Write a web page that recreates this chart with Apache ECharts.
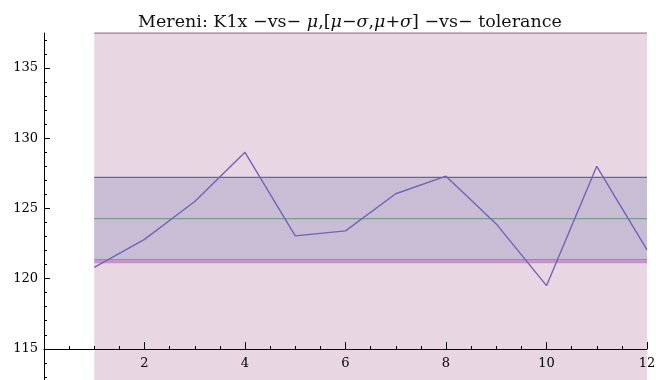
<!DOCTYPE html>
<html>
<head>
<meta charset="utf-8">
<script src="https://cdn.jsdelivr.net/npm/echarts@6/dist/echarts.min.js"></script>
<style>
  html, body { margin: 0; padding: 0; background: #fff; }
  #echarts { width: 656px; height: 380px; }
</style>
</head>
<body>
<div id="echarts"></div>
<script>
var myChart = echarts.init(document.getElementById('echarts'));

// measurements K1x
var samples = [1, 2, 3, 4, 5, 6, 7, 8, 9, 10, 11, 12];
var values = [120.8, 122.8, 125.5, 129.0, 123.05, 123.4, 126.05, 127.3, 123.9, 119.5, 128.0, 122.05];
var tolerance = [121.2, 137.5];
var yLabels = [115, 120, 125, 130, 135];
var yMinor = [111, 112, 113, 114, 116, 117, 118, 119, 121, 122, 123, 124, 126, 127, 128, 129, 131, 132, 133, 134, 136, 137];

// mu and sigma from the samples
var mu = values.reduce(function (a, b) { return a + b; }, 0) / values.length;
var sigma = Math.sqrt(values.reduce(function (a, b) { return a + (b - mu) * (b - mu); }, 0) / (values.length - 1));

var x0 = samples[0], x1 = samples[samples.length - 1];
function hline(v) { return [[x0, v], [x1, v]]; }

var serif = 'DejaVu Serif';

var option = {
    animation: false,
    backgroundColor: '#fff',
    title: {
        text: 'Mereni: K1x \u2212vs\u2212 {i|\u03bc},[{i|\u03bc}\u2212{i|\u03c3},{i|\u03bc}+{i|\u03c3}] \u2212vs\u2212 tolerance',
        left: 345,
        textAlign: 'center',
        top: 8,
        textStyle: {
            fontFamily: serif,
            fontSize: 17.5,
            fontWeight: 'normal',
            color: '#111',
            rich: {
                i: { fontFamily: serif, fontSize: 17.5, fontStyle: 'italic', color: '#111' }
            }
        }
    },
    grid: { left: 44, right: 9, top: 33, bottom: -39, outerBoundsMode: 'none', containLabel: false },
    xAxis: {
        type: 'value',
        min: 0,
        max: 12,
        interval: 2,
        offset: -70,
        z: 10,
        axisLine: { lineStyle: { color: '#000', width: 1 } },
        axisTick: { inside: true, length: 7, lineStyle: { color: '#000' } },
        minorTick: { show: true, splitNumber: 4, length: 3, lineStyle: { color: '#000' } },
        splitLine: { show: false },
        axisLabel: {
            margin: 8,
            fontFamily: serif,
            fontSize: 13,
            color: '#000',
            formatter: function (v) { return v === 0 ? '' : v; }
        }
    },
    yAxis: [
        {
            type: 'value',
            min: 110,
            max: 137.5,
            z: 10,
            axisLine: { show: true, lineStyle: { color: '#000', width: 1 } },
            axisTick: { show: true, inside: true, length: 6, customValues: yLabels, lineStyle: { color: '#000' } },
            splitLine: { show: false },
            axisLabel: {
                margin: 6,
                fontFamily: serif,
                fontSize: 13,
                color: '#000',
                customValues: yLabels
            }
        },
        {
            type: 'value',
            min: 110,
            max: 137.5,
            position: 'left',
            z: 10,
            axisLine: { show: false },
            axisTick: { show: true, inside: true, length: 3, customValues: yMinor, lineStyle: { color: '#000' } },
            splitLine: { show: false },
            axisLabel: { show: false }
        }
    ],
    series: [
        {
            type: 'line',
            data: [],
            markArea: {
                silent: true,
                data: [
                    [{ xAxis: x0, yAxis: 110, itemStyle: { color: '#e9d6e3' } }, { xAxis: x1, yAxis: tolerance[1] }],
                    [{ xAxis: x0, yAxis: mu - sigma, itemStyle: { color: '#c9bdd6' } }, { xAxis: x1, yAxis: mu + sigma }]
                ]
            }
        },
        {
            type: 'line', data: hline(tolerance[1]), showSymbol: false, silent: true,
            lineStyle: { color: '#a87e9c', width: 1.5 }
        },
        {
            type: 'line', data: hline(tolerance[0]), showSymbol: false, silent: true,
            lineStyle: { color: '#c891cc', width: 3 }
        },
        {
            type: 'line', data: hline(mu - sigma), showSymbol: false, silent: true,
            lineStyle: { color: '#9a86b8', width: 1.2 }
        },
        {
            type: 'line', data: hline(mu + sigma), showSymbol: false, silent: true,
            lineStyle: { color: '#5f6a9e', width: 1.3 }
        },
        {
            type: 'line', data: hline(mu), showSymbol: false, silent: true,
            lineStyle: { color: '#7a9a8a', width: 1.3 }
        },
        {
            type: 'line',
            data: samples.map(function (s, i) { return [s, values[i]]; }),
            showSymbol: false,
            silent: true,
            lineStyle: { color: '#7064b4', width: 1.4 }
        }
    ]
};

myChart.setOption(option);
</script>
</body>
</html>
